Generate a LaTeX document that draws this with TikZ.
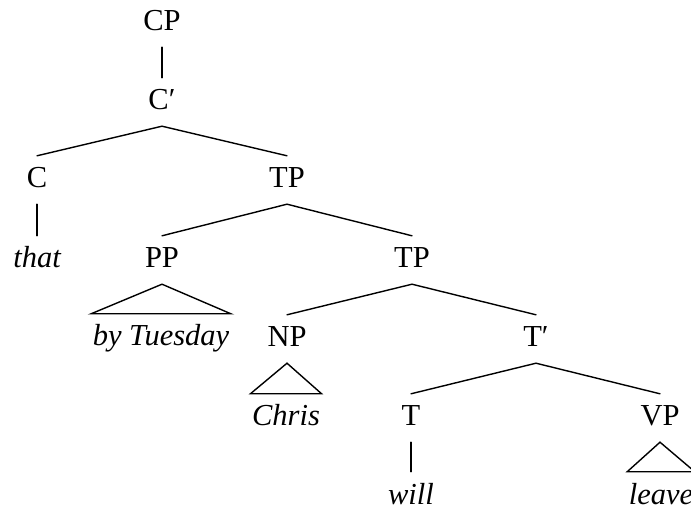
\documentclass[tikz,border=0pt]{standalone}
\usepackage{fontspec}
\setmainfont{Liberation Serif}
\begin{document}
\begin{tikzpicture}[x=1pt,y=-1pt,
  lbl/.style={anchor=base,inner ysep=0pt,inner xsep=1.5pt,
    text height=32pt,text depth=16pt,
    font=\fontsize{30.5}{36}\selectfont},
  word/.style={lbl,font=\fontsize{30.5}{36}\selectfont\itshape},
  branch/.style={line width=1.4pt,line cap=round},
  roof/.style={line width=1.4pt,line join=miter}]
\useasboundingbox (0,0) rectangle (691,510);
% category labels
\node[lbl] (cp)   at (162,31)  {CP};
\node[lbl] (cbar) at (162,110) {C′};
\node[lbl] (c)    at (37,188)  {C};
\node[lbl] (tp)   at (287,188) {TP};
\node[lbl] (pp)   at (162,268) {PP};
\node[lbl] (tpb)  at (412,268) {TP};
\node[lbl] (np)   at (287,347) {NP};
\node[lbl] (tbar) at (536,347) {T′};
\node[lbl] (t)    at (411,426) {T};
\node[lbl] (vp)   at (660,426) {VP};
% words
\node[word] (that)  at (37,268)  {that};
\node[word] (bytue) at (161,346) {by Tuesday};
\node[word] (chris) at (286,426) {Chris};
\node[word] (will)  at (411,504) {will};
\node[word] (leave) at (661,504) {leave};
% branches
\draw[branch] (cp.south) -- (cbar.north);
\draw[branch] (c.north) -- (cbar.south) -- (tp.north);
\draw[branch] (c.south) -- (that.north);
\draw[branch] (pp.north) -- (tp.south) -- (tpb.north);
\draw[branch] (np.north) -- (tpb.south) -- (tbar.north);
\draw[branch] (t.north) -- (tbar.south) -- (vp.north);
\draw[branch] (t.south) -- (will.north);
% roofs over unanalysed phrases
\draw[roof] (pp.south) -- (bytue.north east) -- (bytue.north west) -- cycle;
\draw[roof] (np.south) -- (chris.north east) -- (chris.north west) -- cycle;
\draw[roof] (vp.south) -- (leave.north east) -- (leave.north west) -- cycle;
\end{tikzpicture}
\end{document}
